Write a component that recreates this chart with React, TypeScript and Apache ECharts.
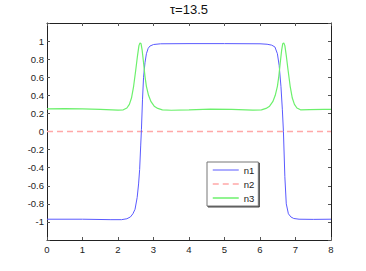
import React, { useEffect, useRef } from "react";
import * as echarts from "echarts";

const titleText = "τ=13.5";
const seriesNames = ["n1", "n2", "n3"];
const xTicks = [0, 8, 1];

const n1X = [0, 1, 1.8, 2.1, 2.25, 2.35, 2.42, 2.48, 2.54, 2.58, 2.61, 2.64, 2.66, 2.69, 2.72, 2.76, 2.8, 2.85, 2.9, 3.0, 3.2, 4, 5, 6, 6.2, 6.33, 6.42, 6.49, 6.54, 6.59, 6.63, 6.66, 6.7, 6.74, 6.8, 6.87, 6.95, 7.1, 7.5, 8];
const n1Y = [-0.97, -0.97, -0.975, -0.975, -0.965, -0.945, -0.91, -0.86, -0.73, -0.58, -0.42, -0.15, 0.02, 0.35, 0.6, 0.76, 0.86, 0.92, 0.945, 0.962, 0.97, 0.972, 0.972, 0.97, 0.965, 0.955, 0.935, 0.86, 0.73, 0.5, 0.24, 0, -0.5, -0.8, -0.91, -0.945, -0.962, -0.97, -0.972, -0.97];

const n2X = [0, 2, 4, 6, 8];
const n2Y = [0, 0, 0, 0, 0];

const n3X = [0, 0.5, 1, 1.5, 2, 2.15, 2.25, 2.32, 2.38, 2.44, 2.5, 2.55, 2.59, 2.62, 2.65, 2.68, 2.72, 2.76, 2.8, 2.86, 2.93, 3.02, 3.12, 3.25, 3.5, 4, 4.6, 5.2, 5.8, 6.04, 6.17, 6.27, 6.36, 6.43, 6.49, 6.53, 6.57, 6.61, 6.64, 6.67, 6.7, 6.74, 6.79, 6.85, 6.91, 6.97, 7.04, 7.14, 7.4, 7.8, 8];
const n3Y = [0.25, 0.252, 0.25, 0.245, 0.237, 0.24, 0.26, 0.3, 0.37, 0.5, 0.68, 0.84, 0.95, 0.98, 0.97, 0.9, 0.76, 0.61, 0.5, 0.4, 0.33, 0.28, 0.255, 0.24, 0.235, 0.24, 0.248, 0.245, 0.237, 0.24, 0.255, 0.28, 0.33, 0.4, 0.5, 0.61, 0.76, 0.9, 0.97, 0.98, 0.95, 0.84, 0.68, 0.5, 0.37, 0.3, 0.26, 0.24, 0.243, 0.245, 0.245];

const zip = (xs: number[], ys: number[]) => xs.map((x, i) => [x, ys[i]]);

export default function App() {
  const ref = useRef<HTMLDivElement>(null);
  useEffect(() => {
    if (!ref.current) return;
    const chart = echarts.init(ref.current, undefined, { renderer: "svg" });
    const font = "Liberation Sans";
    const axisLine = { show: true, onZero: false, lineStyle: { color: "#222", width: 1 } };
    const tick = { show: true, inside: true, length: 3, lineStyle: { color: "#555" } };
    const yFmt = (v: number) => (Math.abs(Math.abs(v) - 1.2) < 1e-6 ? "" : String(+v.toFixed(1)));
    const blue = "#5a5aff";
    const red = "#ffa8a8";
    const green = "#6cf06c";
    chart.setOption({
      animation: false,
      title: {
        text: titleText,
        left: 189,
        textAlign: "center",
        top: 3,
        padding: 0,
        textStyle: { fontFamily: font, fontSize: 13, fontWeight: "normal", color: "#111" },
      },
      grid: { left: 47, right: 35, top: 23, bottom: 31, containLabel: false },
      xAxis: [
        {
          type: "value", min: xTicks[0], max: xTicks[1], interval: xTicks[2], position: "bottom",
          axisLine, axisTick: tick, splitLine: { show: false },
          axisLabel: { fontFamily: font, fontSize: 9.5, color: "#222", margin: 4 },
        },
        {
          type: "value", min: xTicks[0], max: xTicks[1], interval: xTicks[2], position: "top",
          axisLine, axisTick: tick, splitLine: { show: false }, axisLabel: { show: false },
        },
      ],
      yAxis: [
        {
          type: "value", min: -1.2, max: 1.2, interval: 0.2, position: "left",
          axisLine, axisTick: tick, splitLine: { show: false },
          axisLabel: { fontFamily: font, fontSize: 9.5, color: "#222", margin: 3, formatter: yFmt },
        },
        {
          type: "value", min: -1.2, max: 1.2, interval: 0.2, position: "right",
          axisLine, axisTick: tick, splitLine: { show: false }, axisLabel: { show: false },
        },
      ],
      legend: {
        orient: "vertical",
        left: 207,
        top: 162,
        itemWidth: 26,
        itemHeight: 8,
        itemGap: 4,
        padding: [3, 4, 3, 5],
        backgroundColor: "#fff",
        borderColor: "#777",
        borderWidth: 1,
        shadowColor: "#444",
        shadowOffsetX: 1,
        shadowOffsetY: 1,
        shadowBlur: 0,
        itemStyle: { opacity: 0 },
        textStyle: { fontFamily: font, fontSize: 9.5, color: "#222" },
        data: [
          { name: seriesNames[0], lineStyle: { width: 1 } },
          { name: seriesNames[1], lineStyle: { width: 1.5 } },
          { name: seriesNames[2], lineStyle: { width: 1.5 } },
        ],
      },
      series: [
        {
          name: seriesNames[0], type: "line", data: zip(n1X, n1Y), symbol: "none", z: 3,
          lineStyle: { color: blue, width: 1 }, itemStyle: { color: blue },
        },
        {
          name: seriesNames[1], type: "line", data: zip(n2X, n2Y), symbol: "none", z: 2,
          lineStyle: { color: red, width: 1.6, type: [6, 4] }, itemStyle: { color: red },
        },
        {
          name: seriesNames[2], type: "line", data: zip(n3X, n3Y), symbol: "none", z: 3,
          lineStyle: { color: green, width: 1.2 }, itemStyle: { color: green },
        },
      ],
    });
    return () => chart.dispose();
  }, []);
  return <div ref={ref} style={{ width: 366, height: 271, position: "absolute", left: 0, top: 0 }} />;
}
